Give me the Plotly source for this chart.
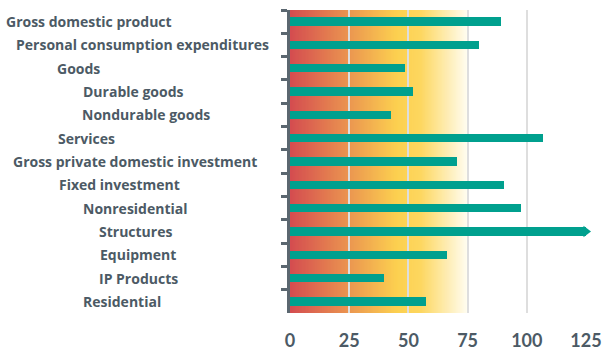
import plotly.graph_objects as go

categories = ["Gross domestic product", "Personal consumption expenditures", "Goods",
              "Durable goods", "Nondurable goods", "Services",
              "Gross private domestic investment", "Fixed investment", "Nonresidential",
              "Structures", "Equipment", "IP Products", "Residential"]
values = [89.3, 79.7, 48.5, 51.8, 42.6, 106.9, 70.6, 90.2, 97.6, 140.0, 66.4, 39.7, 57.3]
x_ticks = [0, 25, 50, 75, 100, 125]
label_left_px = [6, 16, 57, 83, 82, 58, 13, 59, 83, 99, 100, 99, 83]

XMAX = 125
W, H = 604, 350
ML, MR, MT, MB = 290, 18, 10, 37
PW = W - ML - MR

TEXT = "#4c5a65"
AXIS = "#5b6770"
TEAL = "#00a08e"

shown = [min(v, XMAX) for v in values]
over = [(c, XMAX) for c, v in zip(categories, values) if v > XMAX]

fig = go.Figure()
fig.add_trace(go.Bar(y=categories, x=shown, orientation="h", width=0.36,
                     marker=dict(color=TEAL, line=dict(width=0)), showlegend=False,
                     hoverinfo="skip"))
if over:
    fig.add_trace(go.Scatter(y=[o[0] for o in over], x=[o[1] for o in over], mode="markers",
                             marker=dict(symbol="triangle-right", size=10, color=TEAL,
                                         line=dict(width=0)),
                             cliponaxis=False, showlegend=False, hoverinfo="skip"))

# background gradient 0..75
stops = [(0, (212, 76, 80)), (25, (235, 150, 80)), (45, (252, 208, 80)),
         (55, (253, 215, 95)), (75, (255, 253, 242))]
def col(x):
    for (a, ca), (b, cb) in zip(stops[:-1], stops[1:]):
        if a <= x <= b:
            t = (x - a) / (b - a)
            return "rgb(%d,%d,%d)" % tuple(round(ca[i] + (cb[i] - ca[i]) * t) for i in range(3))
    return "rgb(255,255,255)"
step = 0.5
n = int(75 / step)
shapes = []
for i in range(n):
    x0 = i * step
    x1 = min(x0 + 3 * step, 75)
    shapes.append(dict(type="rect", xref="x", yref="paper", x0=x0, x1=x1,
                       y0=0, y1=1, fillcolor=col(x0 + step / 2), line=dict(width=0),
                       layer="below"))

annotations = []
for c, px in zip(categories, label_left_px):
    annotations.append(dict(text=c, x=(px - 2 - ML) / PW, xref="paper", y=c, yref="y",
                            xanchor="left", yanchor="middle", showarrow=False,
                            font=dict(family="Open Sans", size=14, color=TEXT, weight="bold")))

fig.update_layout(
    width=W, height=H, margin=dict(l=ML, r=MR, t=MT, b=MB, autoexpand=False),
    paper_bgcolor="white", plot_bgcolor="white", showlegend=False,
    shapes=shapes, annotations=annotations, bargap=0,
    xaxis=dict(range=[0, XMAX], tickvals=x_ticks, showgrid=True, gridcolor="#dedede",
               gridwidth=2, zeroline=False, showline=False, ticks="", automargin=False,
               tickfont=dict(family="Lato", size=18, color=TEXT, weight="bold"),
               ticklabelstandoff=15),
    yaxis=dict(autorange="reversed", showticklabels=False, showline=True, linecolor=AXIS,
               linewidth=3, ticks="outside", tickson="boundaries", ticklen=6, tickwidth=3,
               tickcolor=AXIS, showgrid=False, zeroline=False, automargin=False),
)
fig.write_html("out.html")
